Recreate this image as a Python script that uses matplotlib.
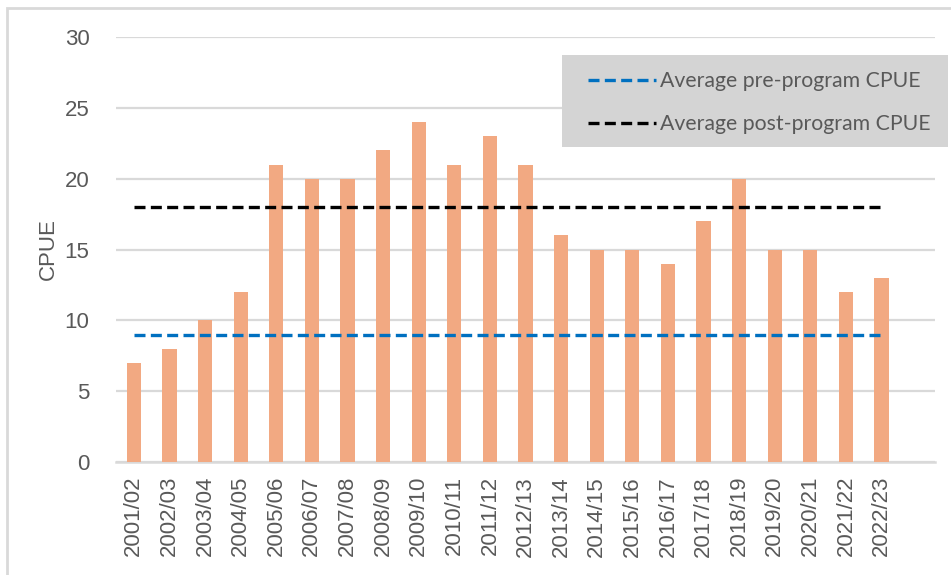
import matplotlib
matplotlib.use("Agg")
import matplotlib.pyplot as plt
from matplotlib.patches import Rectangle

seasons = ["2001/02", "2002/03", "2003/04", "2004/05", "2005/06", "2006/07", "2007/08",
           "2008/09", "2009/10", "2010/11", "2011/12", "2012/13", "2013/14", "2014/15",
           "2015/16", "2016/17", "2017/18", "2018/19", "2019/20", "2020/21", "2021/22",
           "2022/23"]
cpue = [7, 8, 10, 12, 21, 20, 20, 22, 24, 21, 23, 21, 16, 15, 15, 14, 17, 20, 15, 15, 12, 13]
pre_avg = 9
post_avg = 18
yticks = [0, 5, 10, 15, 20, 25, 30]

TXT = "#595959"
GRID = "#d9d9d9"

fig = plt.figure(figsize=(9.51, 5.75), dpi=100)
ax = fig.add_axes([116/951, 1-462/575, (935-116)/951, (462-37)/575])

x = list(range(len(seasons)))
ax.bar(x, cpue, width=0.4, color="#F2A982", zorder=2)
ax.plot(x, [pre_avg]*len(x), color="#0070C0", lw=2.4, ls=(0, (3.3, 1.6)), zorder=3,
        label="Average pre-program CPUE")
ax.plot(x, [post_avg]*len(x), color="black", lw=2.4, ls=(0, (3.3, 1.6)), zorder=3,
        label="Average post-program CPUE")

ax.set_xlim(-0.5, len(seasons) + 0.5)
ax.set_ylim(0, 30)
ax.set_yticks(yticks)
ax.set_xticks(x)
ax.set_xticklabels(seasons, rotation=90, fontsize=16, color=TXT, family="Liberation Sans")
ax.tick_params(axis="y", length=0, pad=19, labelsize=16, labelcolor=TXT)
ax.tick_params(axis="x", length=0, pad=10)
for lab in ax.get_yticklabels():
    lab.set_family("Liberation Sans")
ax.yaxis.grid(True, color=GRID, lw=1.6, zorder=0)
ax.set_axisbelow(True)
for s in ["top", "right", "left"]:
    ax.spines[s].set_visible(False)
ax.spines["bottom"].set_color(GRID)
ax.spines["bottom"].set_linewidth(1.8)
ax.spines["bottom"].set_zorder(1)
ax.set_ylabel("CPUE", fontsize=16, color=TXT, family="Liberation Sans", labelpad=4)

# legend box
fig.patches.append(Rectangle((562/951, 1-147/575), (948-562)/951, (147-55)/575,
                             transform=fig.transFigure, facecolor="#d4d4d4",
                             edgecolor="none", zorder=5))
leg = fig.legend(loc="upper left", bbox_to_anchor=(569/951, 1-52/575), frameon=False,
                 handlelength=3.2, handletextpad=0.2, labelspacing=1.1,
                 prop={"family": "Lato", "size": 15.3})
for t in leg.get_texts():
    t.set_color(TXT)
leg.set_zorder(6)

# chart border
fig.patches.append(Rectangle((7/951, -0.1), 1.2, 1-8/575+0.1, transform=fig.transFigure,
                             facecolor="none", edgecolor=GRID, lw=2, zorder=0))

fig.savefig("out.png", dpi=100)
